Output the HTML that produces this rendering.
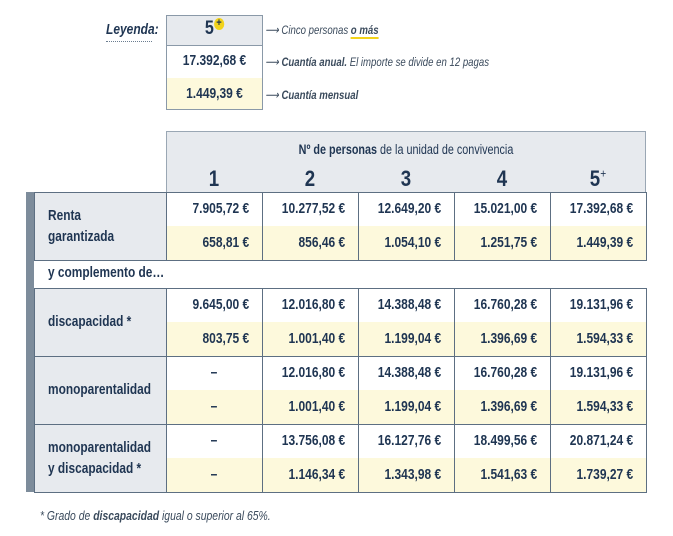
<!DOCTYPE html>
<html><head><meta charset="utf-8"><style>
body{margin:0;width:673px;height:536px;background:#fff;position:relative;font-family:"Liberation Sans",sans-serif;color:#1f3552;overflow:hidden}
div{position:absolute;box-sizing:border-box}
.b{font-weight:bold}
.c{border:1px solid #5d6f82}
.y{background:#fdf9dc}
.g{background:#e7eaee}
.n{font-weight:bold;font-size:15px;text-align:right;padding-right:16px;line-height:34px;transform:scaleX(0.8);transform-origin:right center}
.ctr{transform-origin:center center!important;text-align:center!important;padding:0!important}
.lbl{font-weight:bold;font-size:14.5px;left:48px;transform:scaleX(0.82);transform-origin:left center;white-space:nowrap}
.it{font-style:italic;font-size:12px;color:#3a4a5c;transform:scaleX(0.8);transform-origin:left center;white-space:nowrap}
</style></head><body>
<!-- legend -->
<div class="b" style="left:106px;top:21px;font-size:15px;font-style:italic;transform:scaleX(0.8);transform-origin:left center">Leyenda:</div>
<div style="left:106px;top:41px;width:46px;border-top:1px dotted #6b7d90"></div>
<div class="g" style="left:166px;top:15px;width:97px;height:31px;border:1px solid #8a99a8"></div>
<div style="left:166px;top:46px;width:97px;height:32px;border-left:1px solid #8a99a8;border-right:1px solid #8a99a8"></div>
<div class="y" style="left:166px;top:78px;width:97px;height:32px;border:1px solid #8a99a8;border-top:none"></div>
<div class="b" style="left:166px;top:18px;width:97px;text-align:center;font-size:19px;transform:scaleX(0.85)">5<span style="display:inline-block;width:12px;height:12px;border-radius:6px;background:#f2d31b;font-size:11px;line-height:11px;vertical-align:8px">+</span></div>
<div class="b" style="left:166px;top:52px;width:97px;text-align:center;font-size:15px;transform:scaleX(0.8)">17.392,68 €</div>
<div class="b" style="left:166px;top:85px;width:97px;text-align:center;font-size:15px;transform:scaleX(0.8)">1.449,39 €</div>
<div class="it" style="left:265px;top:23px">⟶ Cinco personas <b style="border-bottom:2px solid #f2d31b">o más</b></div>
<div class="it" style="left:265px;top:55px">⟶ <b>Cuantía anual.</b> El importe se divide en 12 pagas</div>
<div class="it" style="left:265px;top:88px">⟶ <b>Cuantía mensual</b></div>
<!-- header -->
<div class="g" style="left:166px;top:131px;width:480px;height:61px;border:1px solid #9aa7b4;border-bottom:none"></div>
<div style="left:166px;top:142px;width:480px;text-align:center;font-size:13.5px;transform:scaleX(0.8)"><b>Nº de personas</b> de la unidad de convivencia</div>
<div class="b" style="left:166px;top:166px;width:96px;text-align:center;font-size:22px;transform:scaleX(0.85)">1</div>
<div class="b" style="left:262px;top:166px;width:96px;text-align:center;font-size:22px;transform:scaleX(0.85)">2</div>
<div class="b" style="left:358px;top:166px;width:96px;text-align:center;font-size:22px;transform:scaleX(0.85)">3</div>
<div class="b" style="left:454px;top:166px;width:96px;text-align:center;font-size:22px;transform:scaleX(0.85)">4</div>
<div class="b" style="left:550px;top:166px;width:96px;text-align:center;font-size:22px;transform:scaleX(0.85)">5<sup style="font-size:12px;font-weight:normal">+</sup></div>
<!-- left strip -->
<div style="left:34px;top:260px;width:612px;height:29px;border-top:1px solid #5d6f82;border-bottom:1px solid #5d6f82;background:#fff"></div>
<div style="left:26px;top:192px;width:8px;height:300px;background:#7d8c9b"></div>
<div class="lbl" style="top:265px">y complemento de…</div>
<div id="rows"></div>
<div class="it" style="left:40px;top:508px;font-size:13px">* Grado de <b>discapacidad</b> igual o superior al 65%.</div>
<script>
var rows=[
[192,["Renta","garantizada"],["7.905,72 €","10.277,52 €","12.649,20 €","15.021,00 €","17.392,68 €"],["658,81 €","856,46 €","1.054,10 €","1.251,75 €","1.449,39 €"]],
[288,["discapacidad *"],["9.645,00 €","12.016,80 €","14.388,48 €","16.760,28 €","19.131,96 €"],["803,75 €","1.001,40 €","1.199,04 €","1.396,69 €","1.594,33 €"]],
[356,["monoparentalidad"],["–","12.016,80 €","14.388,48 €","16.760,28 €","19.131,96 €"],["–","1.001,40 €","1.199,04 €","1.396,69 €","1.594,33 €"]],
[424,["monoparentalidad","y discapacidad *"],["–","13.756,08 €","16.127,76 €","18.499,56 €","20.871,24 €"],["–","1.146,34 €","1.343,98 €","1.541,63 €","1.739,27 €"]]];
var h="";
rows.forEach(function(r){var t=r[0],H=68;
h+='<div class="g c" style="left:34px;top:'+t+'px;width:133px;height:'+(H+1)+'px"></div>';
var lt=r[1].length==1?t+24:t+14;
h+='<div class="lbl" style="top:'+lt+'px;line-height:21px">'+r[1].join('<br>')+'</div>';
for(var i=0;i<5;i++){var x=166+96*i;
h+='<div class="c" style="left:'+x+'px;top:'+t+'px;width:97px;height:'+(H+1)+'px"></div>';
h+='<div class="y" style="left:'+(x+1)+'px;top:'+(t+34)+'px;width:95px;height:34px"></div>';
var d=r[2][i]=="–"?' ctr':'';
h+='<div class="n'+d+'" style="left:'+x+'px;top:'+t+'px;width:96px">'+r[2][i]+'</div>';
h+='<div class="n'+d+'" style="left:'+x+'px;top:'+(t+34)+'px;width:96px">'+r[3][i]+'</div>';}
});
document.getElementById("rows").outerHTML=h;
</script>
</body></html>
